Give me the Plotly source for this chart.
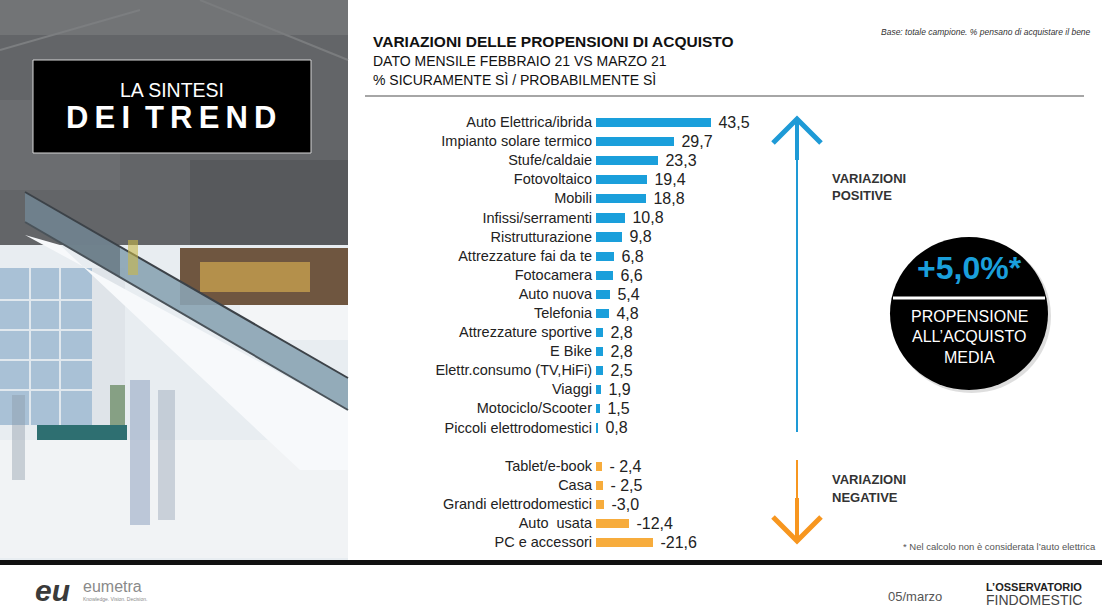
import plotly.graph_objects as go

W, H = 1102, 612

# ---------------- data ----------------
cat_pos = ["Auto Elettrica/ibrida", "Impianto solare termico", "Stufe/caldaie", "Fotovoltaico",
           "Mobili", "Infissi/serramenti", "Ristrutturazione", "Attrezzature fai da te",
           "Fotocamera", "Auto nuova", "Telefonia", "Attrezzature sportive", "E Bike",
           "Elettr.consumo (TV,HiFi)", "Viaggi", "Motociclo/Scooter", "Piccoli elettrodomestici"]
val_pos = [43.5, 29.7, 23.3, 19.4, 18.8, 10.8, 9.8, 6.8, 6.6, 5.4, 4.8, 2.8, 2.8, 2.5, 1.9, 1.5, 0.8]

cat_neg = ["Tablet/e-book", "Casa", "Grandi elettrodomestici", "Auto\u00a0 usata", "PC e accessori"]
val_neg = [-2.4, -2.5, -3.0, -12.4, -21.6]
lab_neg = ["- 2,4", "- 2,5", "-3,0", "-12,4", "-21,6"]

media_label = "+5,0%*"

BLUE = "#1a9fdb"
ORANGE = "#f7ac3c"
FONT = "Liberation Sans, Arial, sans-serif"

# ---------------- helpers (pixel -> paper) ----------------
def px(x):
    return x / W

def py(y):
    return 1 - y / H

pos_y = list(range(len(cat_pos)))
neg_y = [len(cat_pos) + 1 + i for i in range(len(cat_neg))]

fig = go.Figure()
fig.add_trace(go.Bar(
    x=val_pos, y=pos_y, orientation="h", width=0.48,
    marker=dict(color=BLUE, line=dict(width=0)),
    text=["\u00a0" + f"{v:.1f}".replace(".", ",") for v in val_pos],
    textposition="outside", cliponaxis=False, constraintext="none",
    textfont=dict(family=FONT, size=16, color="#222222"),
    hoverinfo="skip", showlegend=False))
fig.add_trace(go.Bar(
    x=[-v for v in val_neg], y=neg_y, orientation="h", width=0.48,
    marker=dict(color=ORANGE, line=dict(width=0)),
    text=["\u00a0" + t for t in lab_neg],
    textposition="outside", cliponaxis=False, constraintext="none",
    textfont=dict(family=FONT, size=16, color="#222222"),
    hoverinfo="skip", showlegend=False))

x_left, x_right = 596, 800
scale = 2.64
y_top, y_bot = 112.5, 551.5

shapes = []
def S(**kw):
    kw.setdefault("xref", "paper")
    kw.setdefault("yref", "paper")
    shapes.append(kw)

def R(x0, y0, x1, y1, color, opacity=1, layer="below"):
    S(type="rect", x0=px(x0), x1=px(x1), y0=py(y0), y1=py(y1), fillcolor=color,
      line=dict(width=0), opacity=opacity, layer=layer)

def P(points, color, opacity=1, layer="below"):
    d = "M " + " L ".join(f"{px(a)},{py(b)}" for a, b in points) + " Z"
    S(type="path", path=d, fillcolor=color, line=dict(width=0), opacity=opacity, layer=layer)

def Ln(x0, y0, x1, y1, color, width, layer="below"):
    S(type="line", x0=px(x0), x1=px(x1), y0=py(y0), y1=py(y1), line=dict(color=color, width=width), layer=layer)

# ---------- left photo approximation ----------
R(0, 0, 348, 560, "#e8edf1")
R(0, 0, 348, 245, "#636568")
R(0, 0, 348, 35, "#727476")
R(190, 160, 348, 245, "#57595c")
R(0, 100, 120, 190, "#6b6d70")
Ln(0, 50, 140, 10, "#7c7e80", 2)
Ln(200, 0, 348, 60, "#7a7c7e", 2)
# windows at left
R(0, 268, 92, 425, "#a9c1d6")
for yy in (300, 330, 360, 390):
    Ln(0, yy, 92, yy, "#e1e8ee", 2)
for xx in (30, 60):
    Ln(xx, 268, xx, 425, "#e1e8ee", 2)
R(92, 268, 125, 425, "#dfe4e9")
# shop at right
R(180, 248, 348, 305, "#6f5640")
R(200, 262, 310, 292, "#c19a4e", opacity=0.85)
R(240, 305, 348, 340, "#f3f5f7")
# floor
R(0, 440, 348, 558, "#f1f3f5")
# plant
R(110, 385, 125, 425, "#6f8f6a", opacity=0.8)
# counter
R(37, 425, 127, 440, "#2e6f71")
# escalator white side panel
P([(25, 235), (348, 410), (348, 470), (300, 470), (60, 245)], "#f7f9fb")
# escalator glass band
P([(25, 192), (348, 378), (348, 410), (25, 222)], "#8aa3b3", opacity=0.9)
P([(25, 192), (120, 247), (120, 277), (25, 222)], "#6d7d88", opacity=0.9)
Ln(25, 192, 348, 378, "#3c4248", 2)
Ln(25, 222, 348, 410, "#4a535a", 2)
# blurred people
R(130, 380, 150, 525, "#7d92b5", opacity=0.45)
R(158, 390, 175, 520, "#9aa6b8", opacity=0.45)
R(12, 395, 25, 480, "#8996a6", opacity=0.4)
R(128, 240, 138, 275, "#c8b84a", opacity=0.6)

# title box
S(type="rect", x0=px(33), x1=px(311), y0=py(60), y1=py(153),
  fillcolor="#000000", line=dict(color="#d8d8d8", width=1))
# header rule
Ln(365, 96, 1084, 96, "#a6a6a6", 2, layer="above")
# bottom black bar
R(0, 560, 1102, 565, "#111111", layer="above")

# arrows
AX = 797
BLUE_A = "#1e9ad6"
ORANGE_A = "#f7961f"
Ln(AX, 150, AX, 432, BLUE_A, 2, "above")
Ln(AX, 120, AX, 160, BLUE_A, 4, "above")
S(type="path", path=f"M {px(773)},{py(143)} L {px(AX)},{py(119)} L {px(821)},{py(143)}",
  line=dict(color=BLUE_A, width=5))
Ln(AX, 460, AX, 500, ORANGE_A, 2, "above")
Ln(AX, 498, AX, 540, ORANGE_A, 4, "above")
S(type="path", path=f"M {px(773)},{py(517)} L {px(AX)},{py(541)} L {px(821)},{py(517)}",
  line=dict(color=ORANGE_A, width=5))
# circle
S(type="circle", x0=px(892), x1=px(1051), y0=py(239), y1=py(393), fillcolor="#bdbdbd",
  line=dict(width=0), opacity=0.5)
S(type="circle", x0=px(890), x1=px(1048), y0=py(237), y1=py(390), fillcolor="#000000",
  line=dict(width=0))
Ln(893, 298, 1045, 298, "#ffffff", 3, "above")

ann = []
def T(x, y, text, size, color="#222222", family=FONT, xanchor="left", yanchor="middle"):
    ann.append(dict(x=px(x), y=py(y), xref="paper", yref="paper", text=text, showarrow=False,
                    xanchor=xanchor, yanchor=yanchor, align=xanchor if xanchor != "center" else "center",
                    borderpad=0, font=dict(family=family, size=size, color=color)))

T(372, 42, "<b>VARIAZIONI DELLE PROPENSIONI DI ACQUISTO</b>", 15.5, "#111111")
T(372, 61, "DATO MENSILE FEBBRAIO 21 VS MARZO 21", 14, "#111111")
T(372, 80, "% SICURAMENTE SÌ / PROBABILMENTE SÌ", 14, "#111111")
T(1092, 32, "<i>Base: totale campione. % pensano di acquistare il bene</i>", 8.5, "#333333", xanchor="right")

T(831, 178, "<b>VARIAZIONI</b>", 13, "#333333")
T(831, 196, "<b>POSITIVE</b>", 13, "#333333")
T(831, 479, "<b>VARIAZIONI</b>", 13, "#333333")
T(831, 497, "<b>NEGATIVE</b>", 13, "#333333")

T(969, 268, f"<b>{media_label}</b>", 32, "#1a9fdb", xanchor="center")
T(969, 316, "PROPENSIONE", 16, "#ffffff", xanchor="center")
T(969, 336, "ALL\u2019ACQUISTO", 16, "#ffffff", xanchor="center")
T(969, 357, "MEDIA", 16, "#ffffff", xanchor="center")

T(1097, 546, "* Nel calcolo non è considerata l\u2019auto elettrica", 9.5, "#555555", xanchor="right")

T(172, 90, "LA SINTESI", 19.5, "#ffffff", xanchor="center")
T(171, 118, "<b>D\u2009E\u2009I\u2009 T\u2009R\u2009E\u2009N\u2009D</b>", 31, "#ffffff", xanchor="center")

# footer
T(34, 590, "<b><i>eu </i></b>", 30, "#3a3a3a")
T(82, 586, "eumetra", 16, "#8a8a8a")
T(82, 599, "Knowledge. Vision. Decision.", 5, "#8a8a8a")
T(887, 596, "05/marzo", 13, "#555555")
T(985, 587, "<b>L\u2019OSSERVATORIO</b>", 11, "#222222")
T(985, 600, "FINDOMESTIC", 14, "#444444")

fig.update_layout(
    width=W, height=H,
    margin=dict(l=0, r=0, t=0, b=0),
    paper_bgcolor="#ffffff", plot_bgcolor="rgba(0,0,0,0)",
    bargap=0, showlegend=False,
    shapes=shapes, annotations=ann,
    xaxis=dict(domain=[px(x_left), px(x_right)], range=[0, (x_right - x_left) / scale],
               visible=False, fixedrange=True),
    yaxis=dict(domain=[py(y_bot), py(y_top)], range=[len(cat_pos) + len(cat_neg) + 0.5, -0.5],
               tickvals=pos_y + neg_y, ticktext=cat_pos + cat_neg,
               showgrid=False, zeroline=False, showline=False, ticks="",
               ticklabelstandoff=3,
               tickfont=dict(family=FONT, size=14.5, color="#222222"), fixedrange=True),
)

fig.write_html("out.html", config={"displayModeBar": False},
               post_script="document.body.style.margin='0';")
